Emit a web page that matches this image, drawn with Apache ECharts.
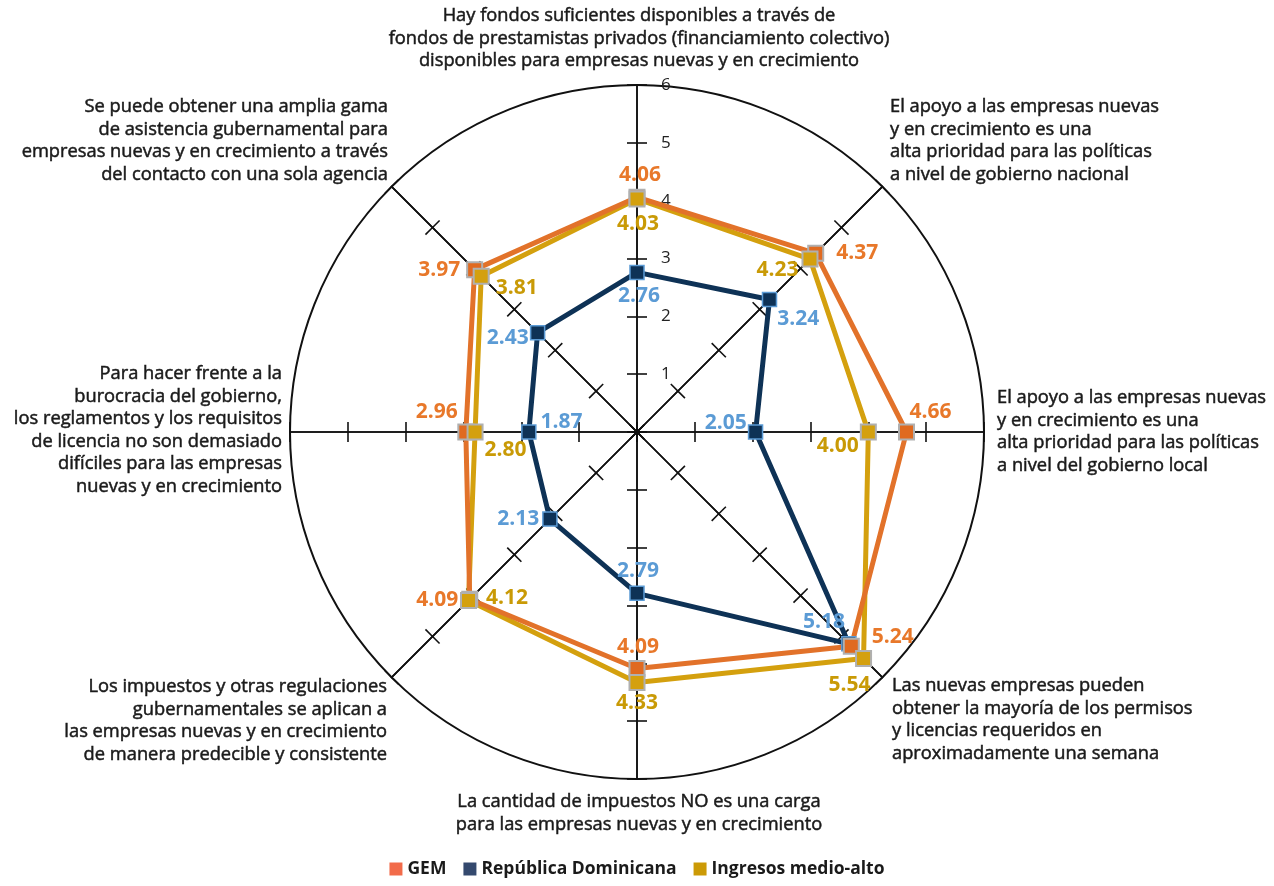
<!DOCTYPE html>
<html>
<head>
<meta charset="utf-8">
<script src="https://cdn.jsdelivr.net/npm/echarts@6/dist/echarts.min.js"></script>
<style>
  html, body { margin: 0; padding: 0; background: #fff; }
  #chart { width: 1274px; height: 886px; }
</style>
</head>
<body>
<div id="chart"></div>
<script>
  // ejes en sentido horario, empezando arriba
  var indicadores = [
    'Hay fondos suficientes disponibles a través de\nfondos de prestamistas privados (financiamiento colectivo)\ndisponibles para empresas nuevas y en crecimiento',
    'El apoyo a las empresas nuevas\ny en crecimiento es una\nalta prioridad para las políticas\na nivel de gobierno nacional',
    'El apoyo a las empresas nuevas\ny en crecimiento es una\nalta prioridad para las políticas\na nivel del gobierno local',
    'Las nuevas empresas pueden\nobtener la mayoría de los permisos\ny licencias requeridos en\naproximadamente una semana',
    'La cantidad de impuestos NO es una carga\npara las empresas nuevas y en crecimiento',
    'Los impuestos y otras regulaciones\ngubernamentales se aplican a\nlas empresas nuevas y en crecimiento\nde manera predecible y consistente',
    'Para hacer frente a la\nburocracia del gobierno,\nlos reglamentos y los requisitos\nde licencia no son demasiado\ndifíciles para las empresas\nnuevas y en crecimiento',
    'Se puede obtener una amplia gama\nde asistencia gubernamental para\nempresas nuevas y en crecimiento a través\ndel contacto con una sola agencia'
  ];
  var nombres = ['GEM', 'República Dominicana', 'Ingresos medio-alto'];
  var gem = [4.06, 4.37, 4.66, 5.24, 4.09, 4.09, 2.96, 3.97];
  var dominicana = [2.76, 3.24, 2.05, 5.18, 2.79, 2.13, 1.87, 2.43];
  var ingresos = [4.03, 4.23, 4.00, 5.54, 4.33, 4.12, 2.80, 3.81];
  var escala = ['', '1', '2', '3', '4', '5', '6'];

  // colocación de las etiquetas de valor: [posición, dx, dy]
  var posGem = [['top', 3, 2], ['right', 7, 0], ['top', 24, 4], ['right', 7, -9],
                ['top', 1, 2], ['left', 2, 1], ['top', -29, 4], ['left', -1, 0]];
  var posDom = [['bottom', 2, 0], ['right', -5, 20], ['left', 4, -9], ['left', 9, -22],
                ['top', 1, 1], ['left', 2, 0], ['right', -1, -10], ['left', 4, 5]];
  var posIng = [['bottom', 1, 1], ['left', 2, 11], ['left', 4, 14], ['bottom', -14, 2],
                ['bottom', 0, -3], ['right', 4, -2], ['right', -4, 18], ['right', 1, 12]];

  // posición de los textos de cada eje
  var nombrePos = [
    { x: 639, y: 5, align: 'center' },
    { x: 890, y: 96, align: 'left' },
    { x: 997, y: 387, align: 'left' },
    { x: 892, y: 675, align: 'left' },
    { x: 639, y: 791, align: 'center' },
    { x: 387, y: 676, align: 'right' },
    { x: 282, y: 363, align: 'right' },
    { x: 388, y: 96, align: 'right' }
  ];

  var CENTRO = [637, 432];
  var RADIO = 347;
  var font = '"Open Sans", "Noto Sans", sans-serif';

  function puntos(valores) {
    var arr = valores.map(function (v, i) { return [v, i * 45]; });
    arr.push([valores[0], 0]);
    return arr;
  }

  function marcas(valores, pos) {
    return valores.map(function (v, i) {
      return {
        value: [v, i * 45],
        label: { position: pos[i][0], offset: [pos[i][1], pos[i][2]] }
      };
    });
  }

  function radarBase(largo) {
    return {
      z: 0,
      center: CENTRO,
      radius: RADIO,
      shape: 'circle',
      startAngle: 90,
      splitNumber: 6,
      indicator: indicadores.map(function () { return { name: '', min: 0, max: 6 }; }),
      axisName: { show: false },
      axisLine: { lineStyle: { color: '#111', width: 1.6 } },
      axisTick: { show: true, length: largo, lineStyle: { color: '#111', width: 1.6 } },
      axisLabel: { show: false },
      splitLine: { show: false },
      splitArea: { show: false }
    };
  }

  function etiqueta(color) {
    return {
      show: true, color: color, fontSize: 21, fontWeight: 'bold', fontFamily: font,
      formatter: function (p) { return p.value[0].toFixed(2); }
    };
  }

  var chart = echarts.init(document.getElementById('chart'));

  var option = {
    animation: false,
    backgroundColor: '#fff',
    radar: [radarBase(10), radarBase(-10)],
    polar: { center: CENTRO, radius: RADIO },
    angleAxis: {
      type: 'value',
      min: 0,
      max: 360,
      startAngle: 90,
      clockwise: true,
      axisLine: { show: true, lineStyle: { color: '#111', width: 2 } },
      axisTick: { show: false },
      axisLabel: { show: false },
      splitLine: { show: false }
    },
    radiusAxis: {
      type: 'value',
      min: 0,
      max: 6,
      interval: 1,
      axisLine: { show: false },
      axisTick: { show: false },
      splitLine: { show: false },
      axisLabel: {
        show: true,
        margin: -24,
        align: 'left',
        color: '#222',
        fontSize: 17,
        fontFamily: font,
        formatter: function (v) { return escala[v] || ''; }
      }
    },
    legend: {
      bottom: 3,
      left: 'center',
      icon: 'rect',
      itemWidth: 13,
      itemHeight: 13,
      itemGap: 17,
      textStyle: { color: '#1a1a1a', fontSize: 17.5, fontWeight: 'bold', fontFamily: font },
      data: [
        { name: nombres[0], itemStyle: { color: '#F26B4A' } },
        { name: nombres[1], itemStyle: { color: '#34496E' } },
        { name: nombres[2], itemStyle: { color: '#CC9A06' } }
      ]
    },
    graphic: indicadores.map(function (t, i) {
      var p = nombrePos[i];
      return {
        type: 'text',
        x: p.x,
        y: p.y,
        style: {
          text: t,
          align: p.align,
          textAlign: p.align,
          verticalAlign: 'top',
          textVerticalAlign: 'top',
          font: '18.3px ' + font,
          lineHeight: 22.5,
          fill: '#1a1a1a',
          stroke: '#1a1a1a',
          lineWidth: 0.5
        }
      };
    }),
    series: [
      // líneas
      {
        name: nombres[1], type: 'line', coordinateSystem: 'polar', z: 5,
        showSymbol: false, silent: true,
        lineStyle: { color: '#0E3256', width: 5 },
        data: puntos(dominicana)
      },
      {
        name: nombres[2], type: 'line', coordinateSystem: 'polar', z: 5,
        showSymbol: false, silent: true,
        lineStyle: { color: '#D4A00E', width: 5 },
        data: puntos(ingresos)
      },
      {
        name: nombres[0], type: 'line', coordinateSystem: 'polar', z: 5,
        showSymbol: false, silent: true,
        lineStyle: { color: '#E2722A', width: 5 },
        data: puntos(gem)
      },
      // marcadores y etiquetas
      {
        name: nombres[1], type: 'scatter', coordinateSystem: 'polar', z: 6,
        symbol: 'rect', symbolSize: 14,
        itemStyle: { color: '#0E3256', opacity: 1, borderColor: '#5B9BD5', borderWidth: 1.5 },
        label: etiqueta('#5B9BD5'),
        data: marcas(dominicana, posDom)
      },
      {
        name: nombres[0], type: 'scatter', coordinateSystem: 'polar', z: 6,
        symbol: 'rect', symbolSize: 15,
        itemStyle: { color: '#E06A20', opacity: 1, borderColor: '#B0B0B0', borderWidth: 2 },
        label: etiqueta('#E8782A'),
        data: marcas(gem, posGem)
      },
      {
        name: nombres[2], type: 'scatter', coordinateSystem: 'polar', z: 6,
        symbol: 'rect', symbolSize: 15,
        itemStyle: { color: '#D4A00E', opacity: 1, borderColor: '#B0B0B0', borderWidth: 2 },
        label: etiqueta('#C99A06'),
        data: marcas(ingresos, posIng)
      }
    ]
  };

  chart.setOption(option);
</script>
</body>
</html>
